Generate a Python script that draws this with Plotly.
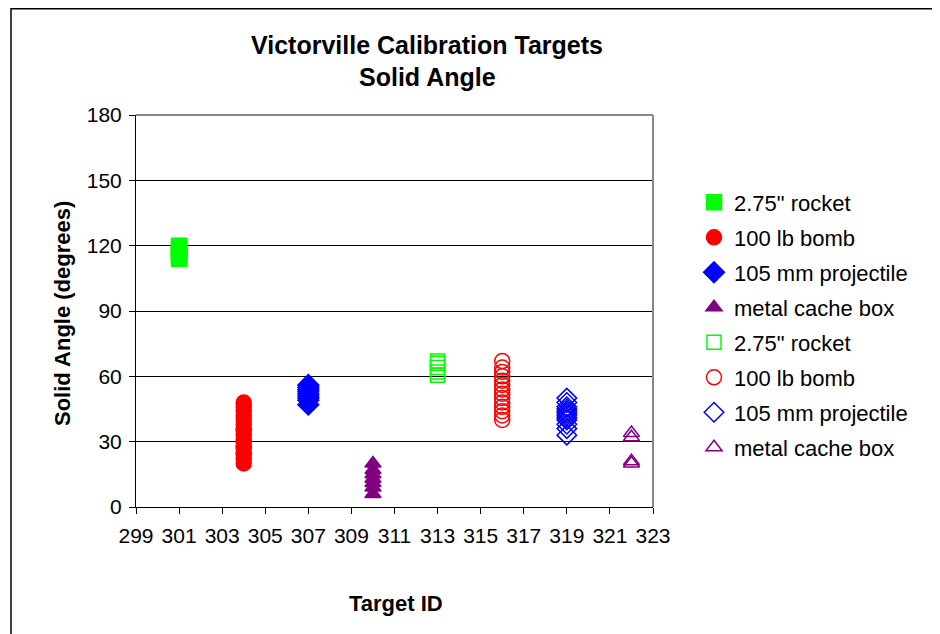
import plotly.graph_objects as go

# ---- data ----
rocket_a_x = 301
rocket_a_y = [114, 115.5, 116, 117, 118, 119, 120]
bomb_a_x = 304
bomb_a_y = [20, 22, 24, 25, 27, 28, 30, 31, 33, 35, 36, 38, 40, 42, 44, 46, 48]
proj_a_x = 307
proj_a_y = [47, 49, 50, 51, 52, 53, 54, 55, 56]
box_a_x = 310
box_a_y = [6, 9, 11, 13, 15, 17, 20]
rocket_b_x = 313
rocket_b_y = [60.5, 62, 64, 66, 67]
bomb_b_x = 316
bomb_b_y = [40, 42, 44, 46, 48, 50, 52, 54, 56, 58, 60, 62, 64, 67]
proj_b_x = 319
proj_b_y = [33, 36, 38, 40, 41, 42, 43, 44, 45, 46, 48, 50]
box_b_x = 322
box_b_y = [20, 21, 32, 34]

x_ticks = list(range(299, 324, 2))
y_ticks = [0, 30, 60, 90, 120, 150, 180]

FONT = "Liberation Sans, Arial, sans-serif"

series = [
    ('2.75" rocket', rocket_a_x, rocket_a_y, "square", "#00FF00", 15),
    ("100 lb bomb", bomb_a_x, bomb_a_y, "circle", "#FF0000", 15),
    ("105 mm projectile", proj_a_x, proj_a_y, "diamond", "#0000FF", 16),
    ("metal cache box", box_a_x, box_a_y, "triangle-up", "#800080", 14),
    ('2.75" rocket', rocket_b_x, rocket_b_y, "square-open", "#00FF00", 14),
    ("100 lb bomb", bomb_b_x, bomb_b_y, "circle-open", "#FF0000", 15),
    ("105 mm projectile", proj_b_x, proj_b_y, "diamond-open", "#0000FF", 15),
    ("metal cache box", box_b_x, box_b_y, "triangle-up-open", "#800080", 14),
]

# screen-pixel helpers (page body adds an 8px offset)
PL, PT, PW, PH = 136, 115, 517, 392


def px(sx):
    return (sx - PL) / PW


def py(sy):
    return (PT + PH - sy) / PH


fig = go.Figure()
for i, (name, xv, yv, sym, col, sz) in enumerate(series):
    fig.add_trace(go.Scatter(
        x=[xv] * len(yv), y=yv, mode="markers", name=name,
        legendgroup="g%d" % i,
        marker=dict(symbol=sym, color=col, size=sz,
                    line=dict(color=col, width=1.5)),
        cliponaxis=False,
    ))

fig.update_layout(
    width=932, height=626,
    margin=dict(l=128, r=287, t=107, b=127),
    paper_bgcolor="white", plot_bgcolor="white",
    font=dict(family=FONT, size=21, color="black"),
    showlegend=True,
    legend=dict(x=px(694), y=py(181.5), xanchor="left", yanchor="top",
                font=dict(size=22), tracegroupgap=3.4,
                itemsizing="trace", bgcolor="rgba(0,0,0,0)"),
    xaxis=dict(range=[299, 323], tickvals=x_ticks, ticks="outside",
               ticklen=6, tickcolor="black", showgrid=False,
               showline=True, linecolor="black", linewidth=1,
               zeroline=False, tickfont=dict(size=21), ticklabelstandoff=4),
    yaxis=dict(range=[0, 180], tickvals=y_ticks, ticks="outside",
               ticklen=6, tickcolor="black", showgrid=True,
               gridcolor="black", gridwidth=1,
               showline=True, linecolor="black", linewidth=1,
               zeroline=False, tickfont=dict(size=21), ticklabelstandoff=3),
    shapes=[
        dict(type="line", xref="paper", yref="paper", x0=0, x1=1, y0=1, y1=1,
             line=dict(color="#888888", width=2)),
        dict(type="line", xref="paper", yref="paper", x0=1, x1=1, y0=0, y1=1,
             line=dict(color="#888888", width=2)),
        dict(type="rect", xref="paper", yref="paper",
             x0=px(11), x1=px(1000), y0=py(8.8), y1=py(700),
             line=dict(color="black", width=1.5)),
    ],
    annotations=[
        dict(text="<b>Victorville Calibration Targets</b>", xref="paper", yref="paper",
             x=px(427), y=py(45), showarrow=False,
             font=dict(size=25), xanchor="center", yanchor="middle"),
        dict(text="<b>Solid Angle</b>", xref="paper", yref="paper",
             x=px(427), y=py(77), showarrow=False,
             font=dict(size=25), xanchor="center", yanchor="middle"),
        dict(text="<b>Solid Angle (degrees)</b>", xref="paper", yref="paper",
             x=px(62), y=py(314), showarrow=False,
             textangle=-90, font=dict(size=22), xanchor="center", yanchor="middle"),
        dict(text="<b>Target ID</b>", xref="paper", yref="paper",
             x=px(396), y=py(603), showarrow=False,
             font=dict(size=22), xanchor="center", yanchor="middle"),
    ],
)

fig.write_html("out.html")
